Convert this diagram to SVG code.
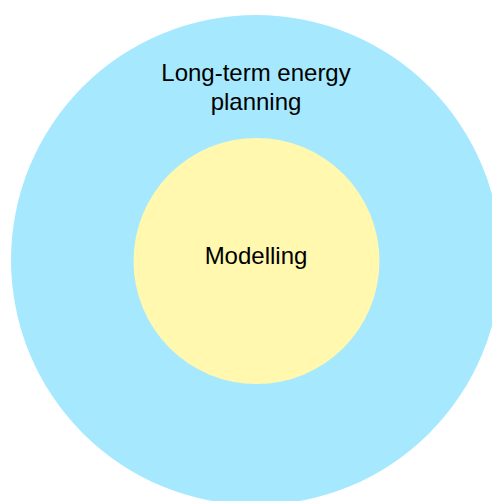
<svg xmlns="http://www.w3.org/2000/svg" width="492" height="501" viewBox="0 0 492 501">
<style>
.lbl{font-family:"Liberation Sans",Arial,sans-serif;font-size:24px;fill:#000;text-anchor:middle}
</style>
<rect width="492" height="501" fill="#ffffff"/>
<g id="outer">
<circle cx="256" cy="260" r="245" fill="#a6e9ff"/>
<text class="lbl" x="256" y="81">Long-term energy</text>
<text class="lbl" x="256" y="109.5">planning</text>
</g>
<g id="inner">
<circle cx="256.5" cy="261" r="123" fill="#fff8ae"/>
<text class="lbl" x="256" y="264">Modelling</text>
</g>
<g id="connectors"></g>
</svg>
